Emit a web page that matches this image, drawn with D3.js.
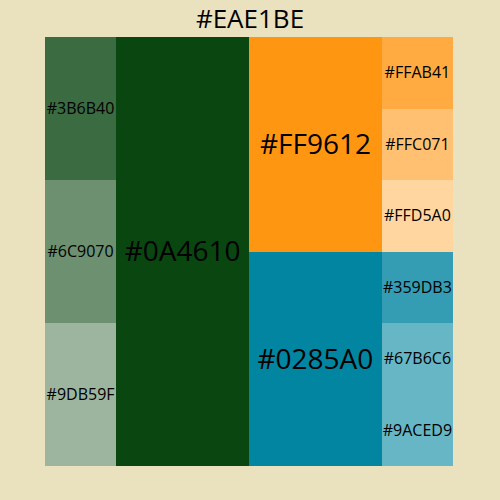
<!DOCTYPE html>
<html>
<head>
<meta charset="utf-8">
<script src="https://cdn.jsdelivr.net/npm/d3@7"></script>
<style>
  body { margin: 0; background: #EAE1BE; }
  text { font-family: "Open Sans", sans-serif; fill: #000; }
</style>
</head>
<body>
<div id="chart"></div>
<script>
// columns of the grid, left to right, cells top to bottom
const columns = ["col1", "col2", "col3", "col4"];
const cellLabels = [
    ["#3B6B40", "#6C9070", "#9DB59F"],
    ["#0A4610"],
    ["#FF9612", "#0285A0"],
    ["#FFAB41", "#FFC071", "#FFD5A0", "#359DB3", "#67B6C6", "#9ACED9"]
];
const cellValues = [
    [2, 2, 2],
    [11.2],
    [5.6, 5.6],
    [1, 1, 1, 1, 1, 1]
];
const title = "#EAE1BE";

// fill (last cell shows the same blue as the one above)
const fillFor = (label, i, j) => (i === 3 && j === 5) ? "#67B6C6" : label;

const width = 500, height = 500;
const margin = { top: 37, right: 47, bottom: 34, left: 45 };

const svg = d3.select("#chart")
    .append("svg")
    .attr("width", width)
    .attr("height", height);

svg.append("rect")
    .attr("width", width)
    .attr("height", height)
    .attr("fill", "#EAE1BE");

const tree = {
    name: "root",
    children: columns.map((c, i) => ({
        name: c,
        children: cellLabels[i].map((l, j) => ({
            name: l, value: cellValues[i][j], col: i, row: j
        }))
    }))
};

const root = d3.hierarchy(tree).sum(d => d.value || 0);

d3.treemap()
    .tile(d3.treemapSliceDice)
    .size([width - margin.left - margin.right, height - margin.top - margin.bottom])
    (root);

const g = svg.append("g")
    .attr("transform", `translate(${margin.left},${margin.top})`);

const leaves = root.leaves();

g.selectAll(".cell")
    .data(leaves)
    .enter()
    .append("rect")
    .attr("class", "cell")
    .attr("x", d => d.x0)
    .attr("y", d => d.y0)
    .attr("width", d => d.x1 - d.x0)
    .attr("height", d => d.y1 - d.y0)
    .attr("shape-rendering", "crispEdges")
    .attr("fill", d => fillFor(d.data.name, d.data.col, d.data.row));

g.selectAll(".label")
    .data(leaves)
    .enter()
    .append("text")
    .attr("class", "label")
    .attr("x", d => (d.x0 + d.x1) / 2)
    .attr("y", d => (d.y0 + d.y1) / 2)
    .attr("dy", "0.35em")
    .attr("text-anchor", "middle")
    .attr("font-size", d => d.value > 5 ? "28px" : "16px")
    .text(d => d.data.name);

svg.append("text")
    .attr("x", width / 2)
    .attr("y", 28)
    .attr("text-anchor", "middle")
    .attr("font-size", "26px")
    .text(title);
</script>
</body>
</html>
